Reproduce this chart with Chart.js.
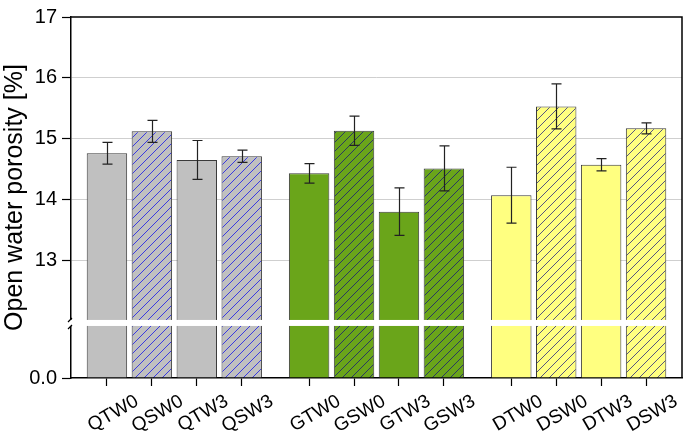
<!DOCTYPE html>
<html>
<head>
<meta charset="utf-8">
<script src="https://cdn.jsdelivr.net/npm/chart.js@4.4.1/dist/chart.umd.min.js"></script>
<style>
html,body{margin:0;padding:0;background:#fff;}
#wrap{width:685px;height:440px;}
</style>
</head>
<body>
<div id="wrap"><canvas id="c" width="685" height="440"></canvas></div>
<script>
// ---- data ----
const categories = ['QTW0','QSW0','QTW3','QSW3','GTW0','GSW0','GTW3','GSW3','DTW0','DSW0','DTW3','DSW3'];
const groups     = ['Q','Q','Q','Q','G','G','G','G','D','D','D','D'];
const porosity   = [14.76,15.12,14.65,14.71,14.43,15.13,13.80,14.51,14.07,15.53,14.57,15.17];
const errors     = [0.18,0.18,0.32,0.10,0.16,0.24,0.39,0.37,0.46,0.37,0.10,0.09];
const yTicks     = [13,14,15,16,17];
const zeroLabel  = '0.0';

// ---- layout helpers (derived) ----
const Y_MIN = 11.065, Y_MAX = 17, BREAK_AT = 11.97;
const groupOrder = [];
groups.forEach(g => { if (!groupOrder.includes(g)) groupOrder.push(g); });
const xPos = categories.map((c, i) => i + 0.5 * groupOrder.indexOf(groups[i]));

const groupFill = {Q:'#c0c0c0', G:'#6aa51a', D:'#ffff80'};
const hatchColor = {Q:'#3a3ae0', G:'#2a3a60', D:'#555580'};

function hatch(bg, fg) {
  const s = 9;
  const p = document.createElement('canvas');
  p.width = s; p.height = s;
  const g = p.getContext('2d');
  g.fillStyle = bg; g.fillRect(0,0,s,s);
  g.strokeStyle = fg; g.lineWidth = 1;
  g.beginPath();
  g.moveTo(0, s); g.lineTo(s, 0);
  g.moveTo(-s/2, s/2); g.lineTo(s/2, -s/2);
  g.moveTo(s/2, s*1.5); g.lineTo(s*1.5, s/2);
  g.stroke();
  return g.createPattern(p, 'repeat');
}
const ctx = document.getElementById('c').getContext('2d');
const fills = categories.map((c, i) => {
  const g = groups[i];
  return c.indexOf('SW') >= 0 ? hatch(groupFill[g], hatchColor[g]) : groupFill[g];
});

const extras = {
  id: 'extras',
  afterDatasetsDraw(chart) {
    const {ctx, chartArea: a, scales: {x, y}} = chart;
    ctx.save();
    // error bars
    ctx.strokeStyle = '#222'; ctx.lineWidth = 1.2;
    porosity.forEach((v, i) => {
      const px = Math.round(x.getPixelForValue(xPos[i])) + 0.5;
      const t = y.getPixelForValue(v + errors[i]);
      const b = y.getPixelForValue(v - errors[i]);
      ctx.beginPath();
      ctx.moveTo(px, t); ctx.lineTo(px, b);
      ctx.moveTo(px - 5, t); ctx.lineTo(px + 5, t);
      ctx.moveTo(px - 5, b); ctx.lineTo(px + 5, b);
      ctx.stroke();
    });
    // frame top and right
    ctx.strokeStyle = '#000'; ctx.lineWidth = 1.5;
    ctx.beginPath();
    ctx.moveTo(a.left, a.top); ctx.lineTo(a.right, a.top); ctx.lineTo(a.right, a.bottom);
    ctx.stroke();
    // axis break
    const by = y.getPixelForValue(BREAK_AT);
    ctx.fillStyle = '#fff';
    ctx.fillRect(a.left - 3, by - 3, a.right - a.left - 2, 6);
    ctx.strokeStyle = '#000'; ctx.lineWidth = 1.2;
    ctx.beginPath();
    ctx.moveTo(a.left - 3, by - 1); ctx.lineTo(a.left + 1, by - 5);
    ctx.moveTo(a.left - 3, by + 6); ctx.lineTo(a.left + 1, by + 2);
    ctx.stroke();
    ctx.restore();
  }
};

new Chart(ctx, {
  type: 'bar',
  data: {
    datasets: [{
      data: porosity.map((v, i) => ({x: xPos[i], y: v})),
      backgroundColor: fills,
      borderColor: '#3a3a3a',
      borderWidth: 1,
      base: Y_MIN,
      barPercentage: 0.9,
      categoryPercentage: 1.0
    }]
  },
  options: {
    responsive: false,
    animation: false,
    layout: {padding: {top: 10, right: 3, left: 0, bottom: 0}},
    plugins: {legend: {display: false}, tooltip: {enabled: false}},
    scales: {
      x: {
        type: 'linear',
        offset: false,
        min: -0.8, max: 12.8,
        afterBuildTicks: s => { s.ticks = xPos.map(v => ({value: v})); },
        afterFit: s => { s.height = 62; },
        ticks: {
          autoSkip: false,
          minRotation: 30, maxRotation: 30,
          labelOffset: 30,
          padding: 4,
          color: '#000',
          font: {family: 'Liberation Sans, Arial, sans-serif', size: 19},
          callback: (v, i) => categories[i]
        },
        grid: {offset: false, drawOnChartArea: false, drawTicks: true, tickLength: 8, tickColor: '#000', tickWidth: 1.2},
        border: {display: true, color: '#000', width: 1.5}
      },
      y: {
        type: 'linear',
        min: Y_MIN, max: Y_MAX,
        afterBuildTicks: s => { s.ticks = [{value: Y_MIN}].concat(yTicks.map(v => ({value: v}))); },
        afterFit: s => { s.width = 71; },
        ticks: {
          padding: 5,
          color: '#000',
          font: {family: 'Liberation Sans, Arial, sans-serif', size: 20},
          callback: v => (Math.abs(v - Y_MIN) < 1e-6 ? zeroLabel : String(Math.round(v)))
        },
        grid: {
          drawTicks: true, tickLength: 9, tickColor: '#000', tickWidth: 1.2,
          color: c => (c.tick && (c.tick.value === Y_MIN || c.tick.value === Y_MAX)) ? 'rgba(0,0,0,0)' : '#cfcfcf',
          lineWidth: 1
        },
        border: {display: true, color: '#000', width: 1.5},
        title: {
          display: true, text: 'Open water porosity [%]', color: '#000',
          font: {family: 'Liberation Sans, Arial, sans-serif', size: 25},
          padding: {top: 0, bottom: 0}
        }
      }
    }
  },
  plugins: [extras]
});
</script>
</body>
</html>
